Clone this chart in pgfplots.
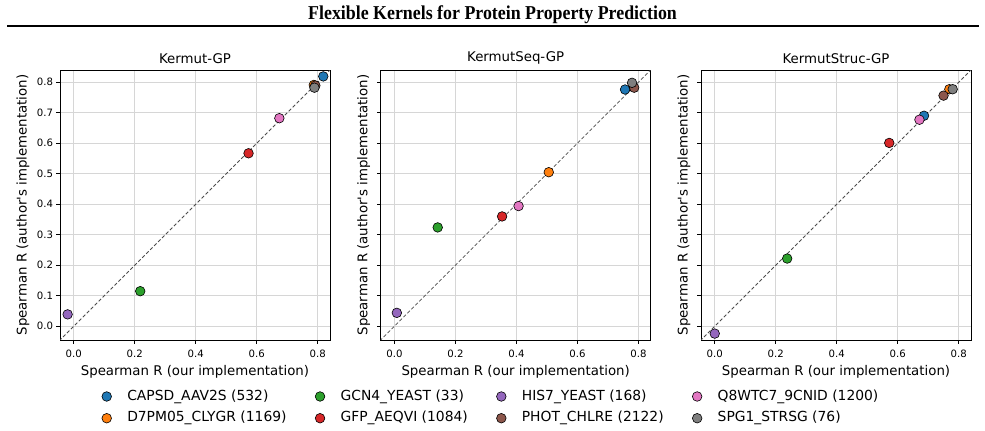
\documentclass[border=0pt]{standalone}
\usepackage{pgfplots}
\pgfplotsset{compat=1.18}
\usepackage{fontspec}
\setmainfont{DejaVu Sans}
\newfontfamily\titlefont{Liberation Serif}
\definecolor{c0}{HTML}{1F77B4}
\definecolor{c1}{HTML}{FF7F0E}
\definecolor{c2}{HTML}{2CA02C}
\definecolor{c3}{HTML}{D62728}
\definecolor{c4}{HTML}{9467BD}
\definecolor{c5}{HTML}{8C564B}
\definecolor{c6}{HTML}{E377C2}
\definecolor{c7}{HTML}{7F7F7F}
\pgfplotsset{
  pt/.style={only marks, mark=*, mark size=3.6pt, mark options={draw=black, line width=0.45pt, fill=#1}},
  panel/.style={
    scale only axis, width=202.5pt, height=202.5pt, anchor=south west,
    xmin=-0.045, xmax=0.84, ymin=-0.045, ymax=0.84,
    xtick={0,0.2,0.4,0.6,0.8}, ytick={0,0.1,0.2,0.3,0.4,0.5,0.6,0.7,0.8},
    /pgf/number format/fixed, /pgf/number format/fixed zerofill, /pgf/number format/precision=1,
    /pgf/number format/assume math mode=true,
    grid=major, major grid style={black!16, line width=0.6pt},
    tick align=outside, major tick length=2.7pt, xtick pos=bottom, ytick pos=left,
    axis line style={line width=0.7pt},
    every tick/.style={black, line width=0.6pt},
    tick label style={font=\fontsize{7.6}{9}\selectfont},
    xticklabel style={yshift=-1.3pt},
    yticklabel style={xshift=1pt},
    label style={font=\fontsize{9.7}{11}\selectfont},
    title style={font=\fontsize{9.9}{11}\selectfont},
    every axis title/.style={at={(axis description cs:0.5,1.0433)}, anchor=center},
    every axis x label/.style={at={(axis description cs:0.5,-0.1174)}, anchor=center},
    xlabel={Spearman R (our implementation)},
    ylabel={Spearman R (author\textquotesingle s implementation)},
    clip=true,
  },
  diag/.style={black!70, line width=0.6pt, dash pattern=on 2.6pt off 1.6pt, forget plot},
}
\begin{document}
\begin{tikzpicture}
\useasboundingbox (0,0) rectangle (738.75pt,323.25pt);
\node[font=\titlefont\bfseries\fontsize{13.4}{16}\selectfont, anchor=center, yscale=1.1] at (369.4pt,312.4pt) {Flexible Kernels for Protein Property Prediction};
\draw[line width=1.5pt] (5.25pt,304.1pt) -- (734pt,304.1pt);

% Panel 1
\begin{axis}[panel, at={(45pt,68.25pt)}, title={Kermut-GP},
  every axis y label/.style={at={(axis description cs:-0.137,0.5)}, rotate=90, anchor=center}]
\addplot[diag] coordinates {(-0.1,-0.1) (0.9,0.9)};
\addplot[pt=c0, forget plot] coordinates {(0.818,0.819)};
\addplot[pt=c1, forget plot] coordinates {(0.787,0.791)};
\addplot[pt=c2, forget plot] coordinates {(0.218,0.115)};
\addplot[pt=c3, forget plot] coordinates {(0.573,0.567)};
\addplot[pt=c4, forget plot] coordinates {(-0.020,0.039)};
\addplot[pt=c5, forget plot] coordinates {(0.792,0.789)};
\addplot[pt=c6, forget plot] coordinates {(0.674,0.682)};
\addplot[pt=c7, forget plot] coordinates {(0.789,0.782)};
\end{axis}

% Panel 2
\begin{axis}[panel, at={(285.5pt,68.25pt)}, title={KermutSeq-GP}, yticklabels={},
  every axis y label/.style={at={(axis description cs:-0.063,0.5)}, rotate=90, anchor=center},
  legend columns=4, legend cell align=left,
  legend image code/.code={\draw[#1] plot coordinates {(0pt,0pt)};},
  legend style={at={(axis description cs:0.4056,-0.2495)}, anchor=center, draw=none, fill=none,
    font=\fontsize{10.4}{12}\selectfont, inner sep=0pt, row sep=6.6pt,
    /tikz/every even column/.append style={column sep=21.5pt},
    /tikz/every odd column/.append style={column sep=11.8pt},
    nodes={inner sep=0pt, text height=7.6pt, text depth=2.1pt}}]
\addplot[diag] coordinates {(-0.1,-0.1) (0.9,0.9)};
\addplot[pt=c0, forget plot] coordinates {(0.756,0.776)};
\addplot[pt=c1, forget plot] coordinates {(0.506,0.505)};
\addplot[pt=c2, forget plot] coordinates {(0.142,0.324)};
\addplot[pt=c3, forget plot] coordinates {(0.353,0.360)};
\addplot[pt=c4, forget plot] coordinates {(0.008,0.044)};
\addplot[pt=c5, forget plot] coordinates {(0.786,0.782)};
\addplot[pt=c6, forget plot] coordinates {(0.407,0.394)};
\addplot[pt=c7, forget plot] coordinates {(0.779,0.798)};
\addlegendimage{pt=c0}\addlegendentry{CAPSD\_AAV2S (532)}
\addlegendimage{pt=c2}\addlegendentry{GCN4\_YEAST (33)}
\addlegendimage{pt=c4}\addlegendentry{HIS7\_YEAST (168)}
\addlegendimage{pt=c6}\addlegendentry{Q8WTC7\_9CNID (1200)}
\addlegendimage{pt=c1}\addlegendentry{D7PM05\_CLYGR (1169)}
\addlegendimage{pt=c3}\addlegendentry{GFP\_AEQVI (1084)}
\addlegendimage{pt=c5}\addlegendentry{PHOT\_CHLRE (2122)}
\addlegendimage{pt=c7}\addlegendentry{SPG1\_STRSG (76)}
\end{axis}

% Panel 3
\begin{axis}[panel, at={(525.75pt,68.25pt)}, title={KermutStruc-GP}, yticklabels={},
  every axis y label/.style={at={(axis description cs:-0.063,0.5)}, rotate=90, anchor=center}]
\addplot[diag] coordinates {(-0.1,-0.1) (0.9,0.9)};
\addplot[pt=c0, forget plot] coordinates {(0.686,0.690)};
\addplot[pt=c1, forget plot] coordinates {(0.769,0.777)};
\addplot[pt=c2, forget plot] coordinates {(0.2375,0.222)};
\addplot[pt=c3, forget plot] coordinates {(0.572,0.601)};
\addplot[pt=c4, forget plot] coordinates {(0.000,-0.024)};
\addplot[pt=c5, forget plot] coordinates {(0.750,0.756)};
\addplot[pt=c6, forget plot] coordinates {(0.671,0.677)};
\addplot[pt=c7, forget plot] coordinates {(0.780,0.777)};
\end{axis}
\end{tikzpicture}
\end{document}
